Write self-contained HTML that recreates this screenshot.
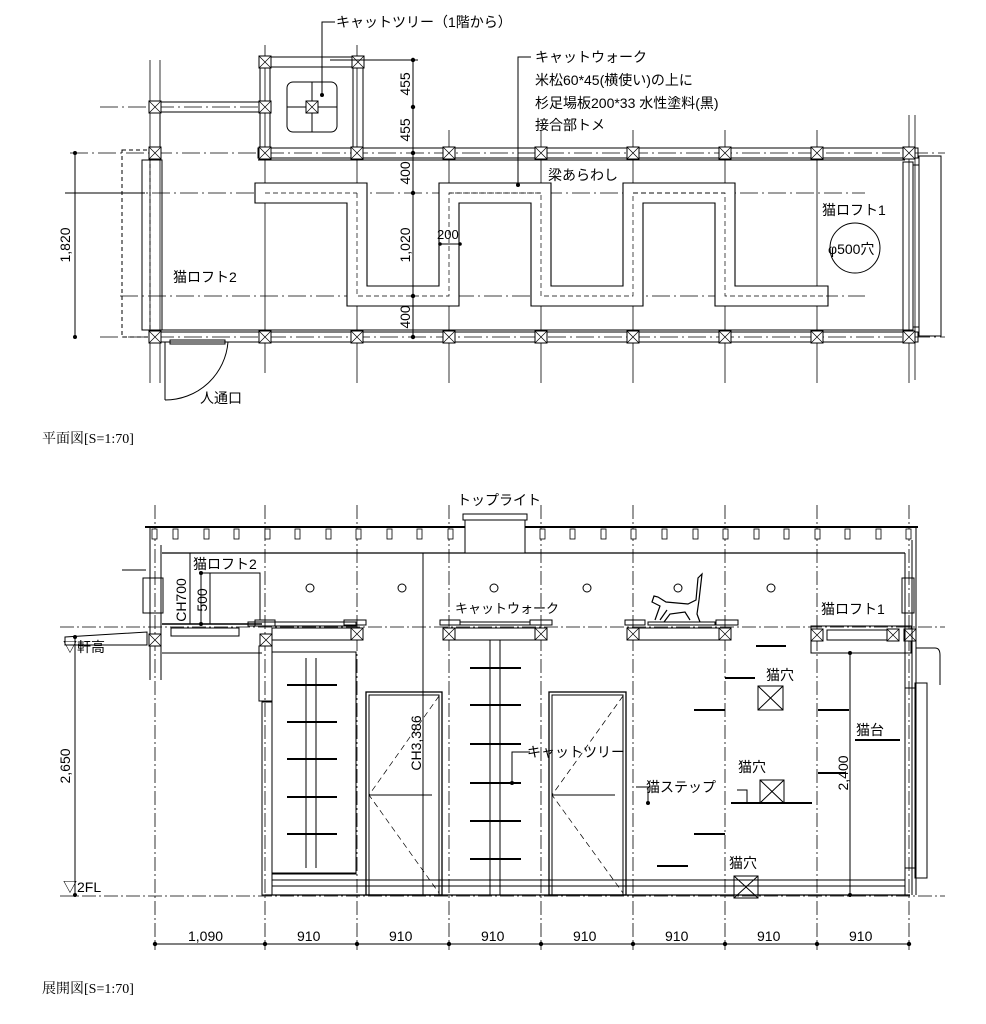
<!DOCTYPE html>
<html><head><meta charset="utf-8">
<style>
html,body{margin:0;padding:0;background:#fff;}
svg{display:block;}
text{font-family:"Liberation Sans","Noto Sans CJK JP",sans-serif;fill:#000;}
.t{font-size:14px;}
.s{font-size:13px;}
.d{font-size:14px;}
</style></head>
<body>
<svg width="986" height="1024" viewBox="0 0 986 1024" xmlns="http://www.w3.org/2000/svg">
<defs>
<g id="xb"><rect x="-6" y="-6" width="12" height="12" fill="#fff" stroke="#000" stroke-width="1"/><path d="M-6,-6L6,6M6,-6L-6,6" stroke="#000" stroke-width="0.7"/></g>
</defs>
<g stroke="#000" fill="none" stroke-width="1">
<!-- ===== PLAN ===== -->
<g stroke-width="0.8">
<line x1="150" y1="60" x2="150" y2="383"/><line x1="160" y1="60" x2="160" y2="383"/>
<line x1="265" y1="45" x2="265" y2="373"/><line x1="357" y1="45" x2="357" y2="383"/>
<line x1="449" y1="130" x2="449" y2="383"/><line x1="541" y1="130" x2="541" y2="383"/>
<line x1="633" y1="130" x2="633" y2="383"/><line x1="725" y1="130" x2="725" y2="383"/>
<line x1="817" y1="130" x2="817" y2="383"/><line x1="909" y1="115" x2="909" y2="383"/>
<line x1="915" y1="115" x2="915" y2="380"/>
</g>
<g stroke-width="0.8" stroke-dasharray="18,4,2,4">
<line x1="70" y1="153" x2="945" y2="153"/>
<line x1="68" y1="193" x2="865" y2="193"/>
<line x1="120" y1="296" x2="865" y2="296"/>
<line x1="100" y1="337" x2="945" y2="337"/>
<line x1="100" y1="107" x2="270" y2="107"/>
</g>
<rect x="258" y="148" width="660" height="10"/>
<rect x="150" y="332" width="768" height="10"/>
<line x1="258" y1="160" x2="905" y2="160"/>
<line x1="160" y1="330" x2="905" y2="330"/>
<rect x="260" y="57" width="103" height="10"/>
<rect x="260" y="57" width="10" height="96"/><rect x="353" y="57" width="10" height="96"/>
<rect x="150" y="102" width="120" height="10"/>
<line x1="160" y1="114" x2="160" y2="148"/>
<rect x="142" y="160" width="20" height="170"/>
<rect x="122" y="150" width="28" height="187" stroke-dasharray="4,3"/>
<rect x="287" y="82" width="50" height="50" rx="6"/>
<line x1="312" y1="82" x2="312" y2="132"/><line x1="287" y1="107" x2="337" y2="107"/>
<use href="#xb" x="312" y="107"/>
<g>
<use href="#xb" x="265" y="62"/><use href="#xb" x="358" y="62"/>
<use href="#xb" x="155" y="107"/><use href="#xb" x="265" y="107"/>
<use href="#xb" x="155" y="153"/><use href="#xb" x="265" y="153"/><use href="#xb" x="357" y="153"/>
<use href="#xb" x="449" y="153"/><use href="#xb" x="541" y="153"/><use href="#xb" x="633" y="153"/>
<use href="#xb" x="725" y="153"/><use href="#xb" x="817" y="153"/><use href="#xb" x="909" y="153"/>
<use href="#xb" x="155" y="337"/><use href="#xb" x="265" y="337"/><use href="#xb" x="357" y="337"/>
<use href="#xb" x="449" y="337"/><use href="#xb" x="541" y="337"/><use href="#xb" x="633" y="337"/>
<use href="#xb" x="725" y="337"/><use href="#xb" x="817" y="337"/><use href="#xb" x="909" y="337"/>
</g>
<path d="M255,183H367V286H439V183H551V286H623V183H735V286H828V306H715V203H643V306H531V203H459V306H347V203H255Z" fill="#fff" stroke-width="1.1"/>
<path d="M357,193V296H449V193H541V296H633V193H725V296H828" stroke-dasharray="5,3" stroke-width="0.7"/>
<path d="M265,193H357M449,193H541M633,193H725" stroke-dasharray="5,3" stroke-width="0.7"/>
<rect x="903" y="162" width="10" height="168"/>
<rect x="913" y="165" width="6" height="162"/>
<rect x="919" y="156" width="22" height="180"/>
<circle cx="855" cy="248" r="25"/>
<line x1="413" y1="60" x2="413" y2="337"/>
<line x1="330" y1="60" x2="418" y2="60"/>
<line x1="75" y1="153" x2="75" y2="337"/>
<line x1="65" y1="193" x2="145" y2="193"/>
<line x1="440" y1="244" x2="460" y2="244"/>
<line x1="165" y1="342" x2="165" y2="400"/>
<path d="M228,342 A63,63 0 0 1 165,400"/>
<rect x="170" y="340" width="55" height="4"/>
<polyline points="335,22 322,22 322,95"/>
<polyline points="531,57 518,57 518,185"/>
</g>
<g fill="#000">
<circle cx="413" cy="60" r="2.2"/><circle cx="413" cy="107" r="2.2"/><circle cx="413" cy="153" r="2.2"/>
<circle cx="413" cy="193" r="2.2"/><circle cx="413" cy="296" r="2.2"/><circle cx="413" cy="337" r="2.2"/>
<circle cx="75" cy="153" r="2"/><circle cx="75" cy="337" r="2"/>
<circle cx="322" cy="95" r="2"/><circle cx="518" cy="185" r="2"/>
<circle cx="440" cy="244" r="1.8"/><circle cx="460" cy="244" r="1.8"/>
</g>
<text class="t" x="336" y="27">キャットツリー（1階から）</text>
<text class="t" x="535" y="62">キャットウォーク</text>
<text class="t" x="535" y="85">米松60*45(横使い)の上に</text>
<text class="t" x="535" y="108">杉足場板200*33 水性塗料(黒)</text>
<text class="t" x="535" y="130">接合部トメ</text>
<text class="t" x="548" y="180">梁あらわし</text>
<text class="t" x="822" y="215">猫ロフト1</text>
<text class="t" x="828" y="254">φ500穴</text>
<text class="t" x="173" y="282">猫ロフト2</text>
<text class="s" x="437" y="239">200</text>
<text class="t" x="200" y="403">人通口</text>
<text class="d" transform="translate(410,84) rotate(-90)" text-anchor="middle">455</text>
<text class="d" transform="translate(410,130) rotate(-90)" text-anchor="middle">455</text>
<text class="d" transform="translate(410,173) rotate(-90)" text-anchor="middle">400</text>
<text class="d" transform="translate(410,245) rotate(-90)" text-anchor="middle">1,020</text>
<text class="d" transform="translate(410,317) rotate(-90)" text-anchor="middle">400</text>
<text class="d" transform="translate(70,245) rotate(-90)" text-anchor="middle">1,820</text>
<text x="42" y="443" style="font-family:'Liberation Serif','Noto Serif CJK SC',serif;font-size:14px">平面図[S=1:70]</text>

<!-- ===== ELEVATION ===== -->
<g stroke="#000" fill="none" stroke-width="1">
<g stroke-width="0.8" stroke-dasharray="14,3,2,3">
<line x1="155" y1="505" x2="155" y2="950"/><line x1="265" y1="505" x2="265" y2="950"/>
<line x1="357" y1="505" x2="357" y2="950"/><line x1="449" y1="505" x2="449" y2="950"/>
<line x1="541" y1="505" x2="541" y2="950"/><line x1="633" y1="505" x2="633" y2="950"/>
<line x1="725" y1="505" x2="725" y2="950"/><line x1="817" y1="505" x2="817" y2="950"/>
<line x1="909" y1="505" x2="909" y2="950"/>
<line x1="60" y1="627" x2="945" y2="627"/>
<line x1="60" y1="896" x2="945" y2="896"/>
</g>
<line x1="145" y1="527" x2="918" y2="527" stroke-width="2"/>
<line x1="162" y1="553" x2="905" y2="553" stroke-width="1.2"/>
<rect x="465" y="517" width="60" height="36" fill="#fff"/>
<rect x="463" y="514" width="64" height="6" fill="#fff"/>
<line x1="150" y1="527" x2="150" y2="680"/><line x1="161" y1="545" x2="161" y2="680"/>
<rect x="143" y="578" width="20" height="35"/>
<line x1="122" y1="570" x2="146" y2="570"/>
<path d="M65,637 L147,632 L147,645 L65,645Z"/>
<line x1="162" y1="624" x2="262" y2="624" stroke-width="1.5"/>
<rect x="171" y="628" width="68" height="8"/>
<line x1="162" y1="653" x2="262" y2="653"/>
<line x1="190" y1="553" x2="190" y2="624"/>
<line x1="210" y1="573" x2="210" y2="624"/>
<polyline points="200,573 260,573 260,620"/>
<use href="#xb" x="155" y="640"/>
<use href="#xb" x="266" y="640"/>
<rect x="255" y="620" width="20" height="6"/>
<rect x="259" y="646" width="13" height="55"/>
<rect x="262" y="702" width="10" height="193"/>
<rect x="272" y="628" width="85" height="12"/>
<rect x="449" y="628" width="92" height="12"/>
<rect x="633" y="628" width="92" height="12"/>
<rect x="248" y="622" width="108" height="4"/>
<rect x="440" y="620" width="20" height="5"/><rect x="530" y="620" width="22" height="5"/>
<rect x="344" y="620" width="22" height="5"/>
<rect x="625" y="620" width="20" height="5"/><rect x="716" y="620" width="22" height="5"/>
<rect x="460" y="622" width="70" height="3"/>
<rect x="648" y="622" width="67" height="3"/>
<use href="#xb" x="357" y="634"/><use href="#xb" x="449" y="634"/><use href="#xb" x="541" y="634"/>
<use href="#xb" x="633" y="634"/><use href="#xb" x="725" y="634"/>
<rect x="811" y="626" width="100" height="27"/>
<rect x="827" y="630" width="70" height="10"/>
<use href="#xb" x="817" y="635"/><use href="#xb" x="893" y="635"/><use href="#xb" x="910" y="635"/>
<line x1="905" y1="553" x2="905" y2="895"/><line x1="912" y1="540" x2="912" y2="895"/>
<line x1="916" y1="527" x2="916" y2="895"/>
<rect x="902" y="578" width="12" height="35"/>
<path d="M916,648 H935 Q940,648 940,655 V685"/>
<rect x="915" y="683" width="12" height="195"/>
<rect x="905" y="688" width="10" height="180"/>
<rect x="272" y="652" width="84" height="222"/>
<line x1="306" y1="658" x2="306" y2="868"/><line x1="316" y1="658" x2="316" y2="868"/>
<line x1="272" y1="873" x2="356" y2="873"/>
<g stroke-width="2">
<line x1="287" y1="685" x2="337" y2="685"/><line x1="287" y1="722" x2="337" y2="722"/>
<line x1="287" y1="759" x2="337" y2="759"/><line x1="287" y1="797" x2="337" y2="797"/>
<line x1="287" y1="834" x2="337" y2="834"/>
</g>
<line x1="272" y1="880" x2="905" y2="880"/>
<line x1="272" y1="886" x2="905" y2="886"/>
<line x1="265" y1="895" x2="910" y2="895" stroke-width="1.2"/>
<rect x="366" y="692" width="76" height="203" stroke-width="1.3"/>
<rect x="369" y="695" width="70" height="200"/>
<path d="M439,696 L369,795 L439,893" stroke-dasharray="6,4" stroke-width="0.7"/>
<line x1="369" y1="795" x2="432" y2="795"/>
<rect x="549" y="692" width="77" height="203" stroke-width="1.3"/>
<rect x="552" y="695" width="71" height="200"/>
<path d="M623,696 L552,795 L623,893" stroke-dasharray="6,4" stroke-width="0.7"/>
<line x1="552" y1="795" x2="615" y2="795"/>
<rect x="490" y="640" width="10" height="255"/>
<g stroke-width="2">
<line x1="470" y1="668" x2="521" y2="668"/><line x1="470" y1="705" x2="521" y2="705"/>
<line x1="470" y1="744" x2="521" y2="744"/><line x1="470" y1="783" x2="521" y2="783"/>
<line x1="470" y1="821" x2="521" y2="821"/><line x1="470" y1="859" x2="521" y2="859"/>
</g>
<g stroke-width="2">
<line x1="657" y1="866" x2="688" y2="866"/><line x1="694" y1="834" x2="725" y2="834"/>
<line x1="694" y1="710" x2="725" y2="710"/><line x1="725" y1="678" x2="755" y2="678"/>
<line x1="756" y1="646" x2="786" y2="646"/><line x1="818" y1="710" x2="849" y2="710"/>
<line x1="818" y1="773" x2="846" y2="773"/><line x1="855" y1="740" x2="900" y2="740"/>
<line x1="731" y1="803" x2="812" y2="803"/>
</g>
<rect x="758" y="686" width="25" height="24"/><path d="M758,686L783,710M783,686L758,710"/>
<rect x="760" y="780" width="24" height="23"/><path d="M760,780L784,803M784,780L760,803"/>
<rect x="734" y="876" width="24" height="22"/><path d="M734,876L758,898M758,876L734,898"/>
<polyline points="737,790 747,790 747,803"/>
<circle cx="310" cy="588" r="4"/><circle cx="402" cy="588" r="4"/><circle cx="494" cy="588" r="4"/>
<circle cx="587" cy="588" r="4"/><circle cx="678" cy="588" r="4"/><circle cx="771" cy="588" r="4"/>
<path d="M655,620 L660,606 L652,602 L654,596 L658,597 L666,602 L688,604 L696,600 L698,578 L702,574 L699,600 L697,614 L700,622 M690,620 L685,612 L670,614 L664,622 M660,620 L667,610" stroke-width="1.2"/>
<line x1="650" y1="622" x2="712" y2="622"/>
<line x1="75" y1="637" x2="75" y2="895"/>
<line x1="850" y1="653" x2="850" y2="895"/>
<line x1="423" y1="553" x2="423" y2="895"/>
<line x1="201" y1="573" x2="201" y2="624"/>
<polyline points="530,752 512,752 512,783"/>
<polyline points="636,787 648,787 648,803"/>
<line x1="155" y1="944" x2="909" y2="944"/>
</g>
<g stroke="#000" fill="#fff" stroke-width="0.8">
<rect x="152" y="529" width="5" height="10"/><rect x="173" y="529" width="5" height="10"/><rect x="204" y="529" width="5" height="10"/>
<rect x="234" y="529" width="5" height="10"/><rect x="265" y="529" width="5" height="10"/><rect x="295" y="529" width="5" height="10"/>
<rect x="326" y="529" width="5" height="10"/><rect x="356" y="529" width="5" height="10"/><rect x="387" y="529" width="5" height="10"/>
<rect x="417" y="529" width="5" height="10"/><rect x="448" y="529" width="5" height="10"/><rect x="540" y="529" width="5" height="10"/>
<rect x="570" y="529" width="5" height="10"/><rect x="601" y="529" width="5" height="10"/><rect x="631" y="529" width="5" height="10"/>
<rect x="662" y="529" width="5" height="10"/><rect x="693" y="529" width="5" height="10"/><rect x="723" y="529" width="5" height="10"/>
<rect x="754" y="529" width="5" height="10"/><rect x="784" y="529" width="5" height="10"/><rect x="815" y="529" width="5" height="10"/>
<rect x="845" y="529" width="5" height="10"/><rect x="876" y="529" width="5" height="10"/><rect x="906" y="529" width="5" height="10"/>
</g>
<g fill="#000">
<circle cx="155" cy="944" r="2.2"/><circle cx="265" cy="944" r="2.2"/><circle cx="357" cy="944" r="2.2"/>
<circle cx="449" cy="944" r="2.2"/><circle cx="541" cy="944" r="2.2"/><circle cx="633" cy="944" r="2.2"/>
<circle cx="725" cy="944" r="2.2"/><circle cx="817" cy="944" r="2.2"/><circle cx="909" cy="944" r="2.2"/>
<circle cx="75" cy="637" r="2"/><circle cx="75" cy="895" r="2"/>
<circle cx="850" cy="653" r="2"/><circle cx="850" cy="895" r="2"/>
<circle cx="512" cy="783" r="2"/><circle cx="648" cy="803" r="2"/>
<circle cx="201" cy="573" r="2"/><circle cx="201" cy="624" r="2"/>
</g>
<text class="d" x="188" y="941">1,090</text>
<text class="d" x="297" y="941">910</text><text class="d" x="389" y="941">910</text>
<text class="d" x="481" y="941">910</text><text class="d" x="573" y="941">910</text>
<text class="d" x="665" y="941">910</text><text class="d" x="757" y="941">910</text>
<text class="d" x="849" y="941">910</text>
<text class="d" transform="translate(70,766) rotate(-90)" text-anchor="middle">2,650</text>
<text class="d" transform="translate(848,773) rotate(-90)" text-anchor="middle">2,400</text>
<text class="d" transform="translate(421,743) rotate(-90)" text-anchor="middle">CH3,386</text>
<text class="d" transform="translate(186,600) rotate(-90)" text-anchor="middle">CH700</text>
<text class="d" transform="translate(207,600) rotate(-90)" text-anchor="middle">500</text>
<text class="t" x="457" y="505">トップライト</text>
<text class="t" x="193" y="569">猫ロフト2</text>
<text class="s" x="455" y="613">キャットウォーク</text>
<text class="t" x="821" y="614">猫ロフト1</text>
<text class="t" x="63" y="652">▽軒高</text>
<text class="t" x="63" y="892">▽2FL</text>
<text class="t" x="766" y="680">猫穴</text>
<text class="t" x="738" y="772">猫穴</text>
<text class="t" x="729" y="868">猫穴</text>
<text class="t" x="856" y="735">猫台</text>
<text class="t" x="646" y="792">猫ステップ</text>
<text class="t" x="527" y="757">キャットツリー</text>
<text x="42" y="993" style="font-family:'Liberation Serif','Noto Serif CJK SC',serif;font-size:14px">展開図[S=1:70]</text>
</svg>
</body></html>
